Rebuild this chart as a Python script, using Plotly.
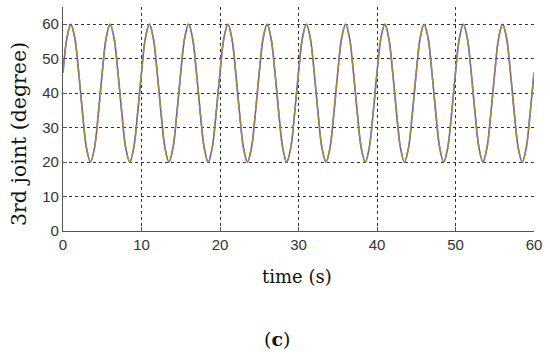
import plotly.graph_objects as go

# time samples (s), every 0.5 s from 0 to 60
time_s = [i * 0.5 for i in range(121)]

# 3rd joint angle (degree)
joint_desired = [
    46, 56, 60, 56, 46, 34, 24, 20, 24, 34,
    46, 56, 60, 56, 46, 34, 24, 20, 24, 34,
    46, 56, 60, 56, 46, 34, 24, 20, 24, 34,
    46, 56, 60, 56, 46, 34, 24, 20, 24, 34,
    46, 56, 60, 56, 46, 34, 24, 20, 24, 34,
    46, 56, 60, 56, 46, 34, 24, 20, 24, 34,
    46, 56, 60, 56, 46, 34, 24, 20, 24, 34,
    46, 56, 60, 56, 46, 34, 24, 20, 24, 34,
    46, 56, 60, 56, 46, 34, 24, 20, 24, 34,
    46, 56, 60, 56, 46, 34, 24, 20, 24, 34,
    46, 56, 60, 56, 46, 34, 24, 20, 24, 34,
    46, 56, 60, 56, 46, 34, 24, 20, 24, 34,
    46,
]
joint_actual = list(joint_desired)

x_ticks = [0, 10, 20, 30, 40, 50, 60]
y_ticks = [0, 10, 20, 30, 40, 50, 60]

fig = go.Figure()
fig.add_trace(go.Scatter(x=time_s, y=joint_desired, mode="lines",
                         line=dict(color="#5a4cf0", width=1.5, shape="spline"),
                         showlegend=False))
fig.add_trace(go.Scatter(x=time_s, y=joint_actual, mode="lines",
                         line=dict(color="#a08a3c", width=1.6, shape="spline", dash="14px,3px"),
                         showlegend=False))

axis_common = dict(
    showline=True, linecolor="#555", linewidth=1.2,
    showgrid=True, gridcolor="#333", griddash="3px,3px", gridwidth=1,
    zeroline=False, ticks="inside", ticklen=4, tickcolor="#555",
    tickfont=dict(family="Liberation Sans", size=15, color="#333"),
    mirror=False, automargin=False,
)

fig.update_layout(
    width=550, height=358,
    margin=dict(l=63, r=16, t=7, b=127),
    paper_bgcolor="white", plot_bgcolor="white",
    xaxis=dict(range=[0, 60], tickvals=x_ticks, **axis_common),
    yaxis=dict(range=[0, 65], tickvals=y_ticks, **axis_common),
    annotations=[
        dict(text="time (s)", xref="paper", yref="paper",
             x=(297 - 63) / 471, y=-(276 - 231) / 224, xanchor="center", yanchor="middle",
             showarrow=False, font=dict(family="DejaVu Serif", size=18, color="#111")),
        dict(text="3rd joint (degree)", xref="paper", yref="paper", textangle=-90,
             x=-(63 - 19) / 471, y=(231 - 134) / 224, xanchor="center", yanchor="middle",
             showarrow=False, font=dict(family="DejaVu Serif", size=20.5, color="#111")),
        dict(text="(<b>c</b>)", xref="paper", yref="paper",
             x=(277 - 63) / 471, y=-(339 - 231) / 224, xanchor="center", yanchor="middle",
             showarrow=False, font=dict(family="DejaVu Serif", size=19, color="#111")),
    ],
)

fig.write_html("out.html", config={"displayModeBar": False},
               post_script="document.body.style.margin='0';document.body.style.overflow='hidden';")
